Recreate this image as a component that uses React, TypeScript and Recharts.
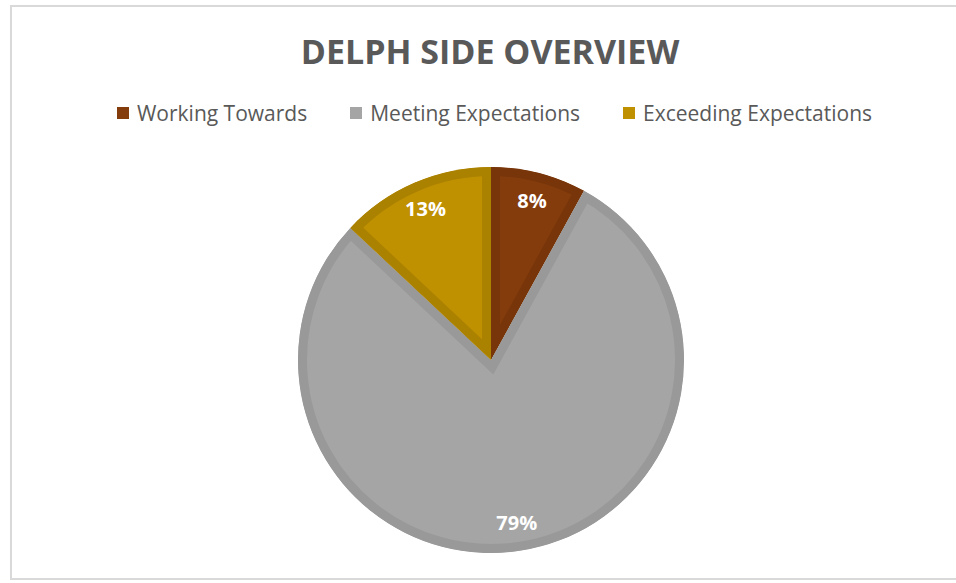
import React from "react";
import { PieChart, Pie, Sector } from "recharts";

const categories = ["Working Towards", "Meeting Expectations", "Exceeding Expectations"];
const values = [8, 79, 13];
const fills = ["#843C0C", "#A5A5A5", "#BF9000"];
const borders = ["#773509", "#999999", "#AB8100"];
const title = "DELPH SIDE OVERVIEW";

const data = categories.map((name, i) => ({ name, value: values[i] }));

const FONT = "'Open Sans', 'DejaVu Sans', sans-serif";
const RAD = Math.PI / 180;

const renderShape = (props: any) => {
  const { cx, cy, innerRadius, outerRadius, startAngle, endAngle, index } = props;
  const id = `slice-clip-${index}`;
  return (
    <g>
      <defs>
        <clipPath id={id}>
          <Sector cx={cx} cy={cy} innerRadius={innerRadius} outerRadius={outerRadius} startAngle={startAngle} endAngle={endAngle} />
        </clipPath>
      </defs>
      <Sector
        cx={cx}
        cy={cy}
        innerRadius={innerRadius}
        outerRadius={outerRadius}
        startAngle={startAngle}
        endAngle={endAngle}
        fill={fills[index]}
        stroke={borders[index]}
        strokeWidth={18}
        clipPath={`url(#${id})`}
      />
    </g>
  );
};

const renderLabel = (props: any) => {
  const { cx, cy, midAngle, percent } = props;
  const r = 165;
  const x = cx + r * Math.cos(-midAngle * RAD);
  const y = cy + r * Math.sin(-midAngle * RAD);
  return (
    <text x={x} y={y} fill="#FFFFFF" textAnchor="middle" dominantBaseline="central" fontFamily={FONT} fontWeight={700} fontSize={20}>
      {`${Math.round(percent * 100)}%`}
    </text>
  );
};

export default function App() {
  return (
    <div style={{ position: "absolute", left: 0, top: 0, width: 956, height: 583, overflow: "hidden", background: "#fff" }}>
      <div style={{ position: "absolute", left: 10, top: 5, width: 960, height: 575, border: "2px solid #D9D9D9", boxSizing: "border-box" }} />
      <div style={{ position: "absolute", left: 0, top: 28, width: 980, textAlign: "center", fontFamily: FONT, fontWeight: 700, fontSize: 34, color: "#595959", lineHeight: "46px" }}>
        {title}
      </div>
      <div style={{ position: "absolute", left: 0, top: 99, width: 989, display: "flex", justifyContent: "center", alignItems: "center", gap: 43, fontFamily: FONT, fontSize: 21, color: "#595959", lineHeight: "28px" }}>
        {categories.map((c, i) => (
          <div key={c} style={{ display: "flex", alignItems: "center" }}>
            <span style={{ display: "inline-block", width: 12, height: 12, background: fills[i], marginRight: 8 }} />
            <span>{c}</span>
          </div>
        ))}
      </div>
      <div style={{ position: "absolute", left: 0, top: 0 }}>
        <PieChart width={956} height={583} margin={{ top: 0, right: 0, bottom: 0, left: 0 }}>
          <Pie
            data={data}
            dataKey="value"
            nameKey="name"
            cx={491}
            cy={360}
            outerRadius={193}
            startAngle={90}
            endAngle={-270}
            stroke="none"
            shape={renderShape}
            label={renderLabel}
            labelLine={false}
            isAnimationActive={false}
          />
        </PieChart>
      </div>
    </div>
  );
}
